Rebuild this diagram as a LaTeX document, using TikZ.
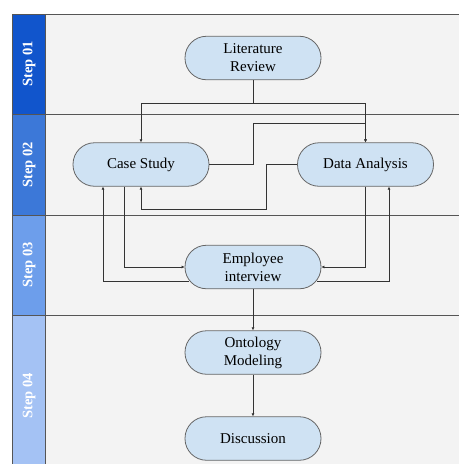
\documentclass[tikz,border=0pt]{standalone}
\usepackage{fontspec}
\setmainfont{Liberation Serif}
\usetikzlibrary{arrows.meta,calc}
\definecolor{bgc}{HTML}{F3F3F3}
\definecolor{sa}{HTML}{1155CC}
\definecolor{sb}{HTML}{3C78D8}
\definecolor{sc}{HTML}{6D9EEB}
\definecolor{sd}{HTML}{A4C2F4}
\definecolor{nfill}{HTML}{CFE2F3}
\definecolor{nline}{HTML}{666666}
\definecolor{lanec}{HTML}{555555}
\definecolor{conc}{HTML}{333333}
\begin{document}
\begin{tikzpicture}[x=1pt,y=-1pt,
  lane/.style={draw=lanec,line width=0.9pt},
  steplabel/.style={rotate=90,text=white,font=\fontsize{14.5}{16}\selectfont\bfseries,inner sep=0pt},
  proc/.style={draw=nline,fill=nfill,line width=0.8pt,rounded corners=21.5pt,
    minimum width=136pt,minimum height=43.5pt,inner sep=0pt,align=center,
    font=\fontsize{15}{18}\selectfont},
  conn/.style={draw=conc,line width=0.6pt},
  arr/.style={conn,-{Latex[length=3pt,width=3pt]}}]
\useasboundingbox (0,0) rectangle (459,464);
\fill[bgc] (12,14) rectangle (459,464);
\fill[sa] (12,14) rectangle (45,114);
\fill[sb] (12,114) rectangle (45,215);
\fill[sc] (12,215) rectangle (45,315);
\fill[sd] (12,315) rectangle (45,464);
\draw[lane] (12,14) -- (459,14);
\draw[lane] (12,114) -- (459,114);
\draw[lane] (12,215) -- (459,215);
\draw[lane] (12,315) -- (459,315);
\draw[lane] (12,14) -- (12,464);
\draw[lane] (45,14) -- (45,464);
\node[steplabel] (l1) at (29,64) {Step 01};
\node[steplabel] (l2) at (29,165) {Step 02};
\node[steplabel] (l3) at (29,265) {Step 03};
\node[steplabel] (l4) at (29,396) {Step 04};

\node[proc] (lit) at (253,58) {Literature\\Review};
\node[proc] (cs) at (141,164.5) {Case Study};
\node[proc] (da) at (365.5,164.5) {Data Analysis};
\node[proc] (emp) at (253,267) {Employee\\interview};
\node[proc] (ont) at (253,352.5) {Ontology\\Modeling};
\node[proc] (dis) at (253,438.5) {Discussion};

\coordinate (j1) at (253,103);
\draw[conn] (lit.south) -- (j1);
\draw[arr] (j1) -| (cs.north);
\draw[arr] (j1) -| (da.north);
\draw[arr] (cs.east) -| (253,123) -| (da.north);
\draw[arr] (da.west) -| (266,209) -| (cs.south);
\draw[arr] ($(cs.south)+(-17,0)$) |- (emp.west);
\draw[arr] ($(emp.west)+(4,14)$) -| ($(cs.south)+(-38,0)$);
\draw[arr] (da.south) |- (emp.east);
\draw[arr] ($(emp.east)+(-4,14)$) -| ($(da.south)+(23.5,0)$);
\draw[arr] (emp) -- (ont);
\draw[arr] (ont) -- (dis);
\end{tikzpicture}
\end{document}
